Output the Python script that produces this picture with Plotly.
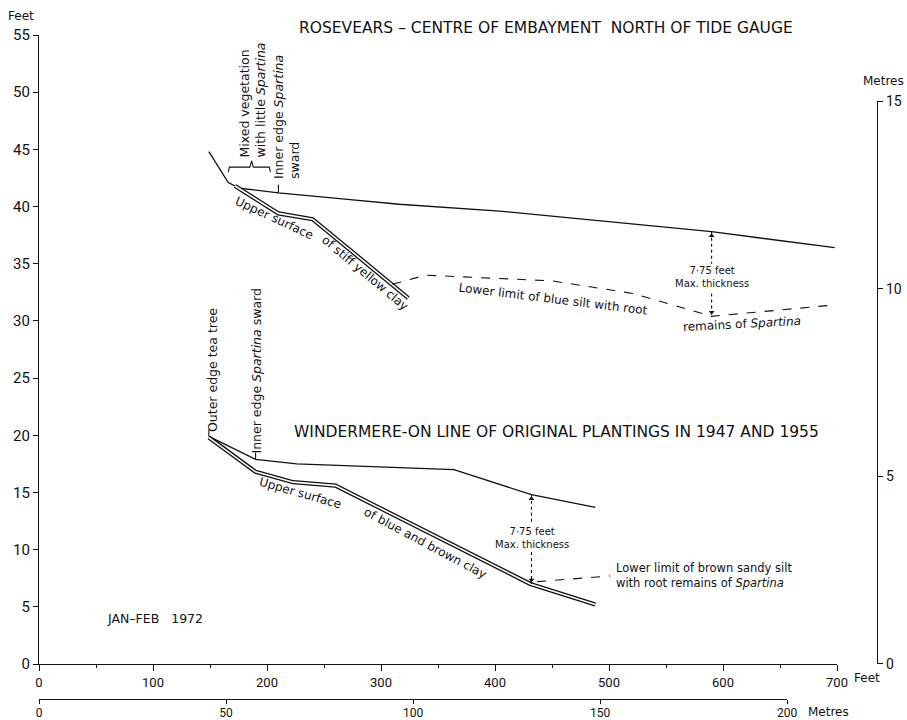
import plotly.graph_objects as go

# ---------------- data (feet along profile, feet height) ----------------
ros_surface_x = [149, 166, 176, 210, 273, 316, 404, 457, 521, 590, 698]
ros_surface_y = [44.8, 42.1, 41.6, 41.2, 40.6, 40.2, 39.6, 39.1, 38.5, 37.8, 36.4]
ros_clay_x = [172, 210, 240, 324]
ros_clay_y = [41.8, 39.4, 38.9, 32.0]
ros_silt_x = [310, 339, 450, 521, 590, 698]
ros_silt_y = [33.2, 34.0, 33.5, 32.4, 30.4, 31.4]

win_surface_x = [149, 190, 226, 364, 432, 488]
win_surface_y = [19.9, 17.9, 17.5, 17.0, 14.8, 13.7]
win_clay_x = [149, 190, 223, 260, 431, 488]
win_clay_y = [19.8, 16.8, 15.9, 15.6, 7.0, 5.2]
win_silt_x = [437, 501]
win_silt_y = [7.2, 7.7]

# max thickness markers: x, top, bottom, text-gap top, text-gap bottom
ros_thick = dict(x=590, top=37.8, bottom=30.4, gap_top=35.0, gap_bot=32.4)
win_thick = dict(x=432, top=14.8, bottom=7.0, gap_top=12.2, gap_bot=9.8)

# vegetation-marker ticks (x, y_from, y_to)
veg_ticks = [(210, 41.2, 41.9), (149, 19.9, 20.5), (190, 17.9, 18.5)]
# brace under "Mixed vegetation" (x, y)
brace_x = [166, 167, 185, 186.5, 188, 202, 203]
brace_y = [43.0, 43.45, 43.45, 44.0, 43.45, 43.45, 43.0]

feet_ticks = [0, 100, 200, 300, 400, 500, 600, 700]
feet_minor = [50, 150, 250, 350, 450, 550, 650]
metre_ticks = [0, 50, 100, 150, 200]
height_ft_ticks = list(range(0, 56, 5))
height_m_ticks = [0, 5, 10, 15]

FT_PER_M = 1 / 0.3048

# ---------------- page geometry ----------------
W, H = 907, 720
L, R, T, B = 39, 877, 35, 699
X700PX, Y0PX = 837, 664
PW, PH = R - L, B - T
xdom_end = (X700PX - L) / PW
ydom0 = (B - Y0PX) / PH

def px(xp):
    return (xp - L) / PW

def py(yp):
    return (B - yp) / PH

FONT = "DejaVu Sans"
TICKFONT = "Roboto"
BLACK = "#111111"

fig = go.Figure()

def add_line(x, y, width=1.3, dash=None, color=BLACK):
    fig.add_trace(go.Scatter(x=x, y=y, mode="lines", hoverinfo="skip", showlegend=False,
                             line=dict(color=color, width=width, dash=dash)))

def add_double(x, y):
    add_line(x, y, width=4.2)
    add_line(x, y, width=1.6, color="white")

# Rosevears
add_line(ros_surface_x, ros_surface_y)
add_double(ros_clay_x, ros_clay_y)
add_line(ros_silt_x, ros_silt_y, width=1.1, dash="dash")
# Windermere
add_line(win_surface_x, win_surface_y)
add_double(win_clay_x, win_clay_y)
add_line(win_silt_x, win_silt_y, width=1.1, dash="dash")

# thickness arrows
for t in (ros_thick, win_thick):
    fig.add_trace(go.Scatter(x=[t["x"], t["x"], None, t["x"], t["x"]],
                             y=[t["top"], t["gap_top"], None, t["gap_bot"], t["bottom"]],
                             mode="lines", line=dict(color=BLACK, width=1.1, dash="dot"),
                             hoverinfo="skip", showlegend=False))
    fig.add_trace(go.Scatter(x=[t["x"]], y=[t["top"] - 0.35], mode="markers",
                             marker=dict(symbol="triangle-up", size=5, color=BLACK),
                             hoverinfo="skip", showlegend=False))
    fig.add_trace(go.Scatter(x=[t["x"]], y=[t["bottom"] + 0.35], mode="markers",
                             marker=dict(symbol="triangle-down", size=5, color=BLACK),
                             hoverinfo="skip", showlegend=False))

# small vegetation ticks
tx, ty = [], []
for x0, y0, y1 in veg_ticks:
    tx += [x0, x0, None]
    ty += [y0, y1, None]
add_line(tx, ty, width=1.1)
add_line(brace_x, brace_y, width=1.1)

# invisible traces to instantiate secondary axes
fig.add_trace(go.Scatter(x=[0], y=[0], xaxis="x2", yaxis="y", mode="markers",
                         marker=dict(opacity=0), hoverinfo="skip", showlegend=False))
fig.add_trace(go.Scatter(x=[0], y=[0], xaxis="x", yaxis="y2", mode="markers",
                         marker=dict(opacity=0), hoverinfo="skip", showlegend=False))

ann = []

def text(xp, ypix, s, size=12, angle=0, xanchor="center", yanchor="middle", align="center",
         family=FONT):
    ann.append(dict(x=px(xp), y=py(ypix), xref="paper", yref="paper", text=s, showarrow=False,
                    textangle=angle, xanchor=xanchor, yanchor=yanchor, align=align,
                    font=dict(family=family, size=size, color=BLACK)))

# axis captions
text(21, 16, "Feet", size=12)
text(906, 81, "Metres", size=12, xanchor="right")
text(852, 678, "Feet", size=12, xanchor="left")
text(806, 712, "Metres", size=12, xanchor="left")

# titles
text(546, 28, "ROSEVEARS \u2013 CENTRE OF EMBAYMENT  NORTH OF TIDE GAUGE", size=15.5)
text(556, 432, "WINDERMERE-ON LINE OF ORIGINAL PLANTINGS IN 1947 AND 1955", size=15.5)
text(105, 618, "JAN\u2013FEB   1972", size=12.5, xanchor="left")

# Rosevears labels
text(252, 160, "Mixed vegetation<br>with little <i>Spartina</i>", size=12.5, angle=-90,
     yanchor="bottom", align="left")
text(287, 181, "Inner edge <i>Spartina</i><br>sward", size=12.5, angle=-90,
     yanchor="bottom", align="left")
text(274, 218, "Upper surface", size=12, angle=25)
text(365, 273, "of stiff yellow clay", size=12, angle=40)
text(553, 299, "Lower limit of blue silt with root", size=12, angle=7)
text(742, 324, "remains of <i>Spartina</i>", size=12, angle=-3)
text(712, 277, "7\u00b775 feet<br>Max. thickness", size=10)

# Windermere labels
text(213, 434, "Outer edge tea tree", size=12.5, angle=-90, yanchor="bottom")
text(256, 456, "Inner edge <i>Spartina</i> sward", size=12.5, angle=-90, yanchor="bottom")
text(300, 493, "Upper surface", size=12, angle=16)
text(425, 543, "of blue and brown clay", size=12, angle=28)
text(532, 538, "7\u00b775 feet<br>Max. thickness", size=10)
text(614, 575, "Lower limit of brown sandy silt<br>with root remains of <i>Spartina</i>", size=11.5,
     xanchor="left", align="left")

axis_common = dict(showline=True, linecolor=BLACK, linewidth=1.2, ticks="outside",
                   tickcolor=BLACK, tickwidth=1.1, showgrid=False, zeroline=False,
                   automargin=False)

fig.update_layout(
    width=W, height=H,
    margin=dict(l=L, r=W - R, t=T, b=H - B, pad=0, autoexpand=False),
    paper_bgcolor="white", plot_bgcolor="rgba(0,0,0,0)",
    showlegend=False,
    annotations=ann,
    xaxis=dict(axis_common, range=[0, 700], domain=[0, xdom_end], anchor="y",
               tickvals=feet_ticks, ticklen=6,
               tickfont=dict(family=TICKFONT, size=13, color=BLACK),
               minor=dict(tickvals=feet_minor, ticklen=3, ticks="outside", tickcolor=BLACK)),
    yaxis=dict(axis_common, range=[0, 55], domain=[ydom0, 1], anchor="x",
               tickvals=height_ft_ticks, ticklen=5,
               tickfont=dict(family=TICKFONT, size=15, color=BLACK)),
    xaxis2=dict(axis_common, range=[0, 200],
                domain=[0, xdom_end * (200 * FT_PER_M) / 700],
                anchor="free", position=0, tickvals=metre_ticks, ticklen=4,
                ticklabelstandoff=-2,
                tickfont=dict(family=TICKFONT, size=12, color=BLACK)),
    yaxis2=dict(axis_common, range=[0, 15],
                domain=[ydom0, ydom0 + (1 - ydom0) * (15 * FT_PER_M) / 55],
                anchor="free", position=1, side="right",
                tickvals=height_m_ticks, ticklen=5,
                tickfont=dict(family=TICKFONT, size=14, color=BLACK)),
)

fig.write_html("out.html", config={"displayModeBar": False},
               post_script="document.body.style.margin='0px';document.body.style.overflow='hidden';")
